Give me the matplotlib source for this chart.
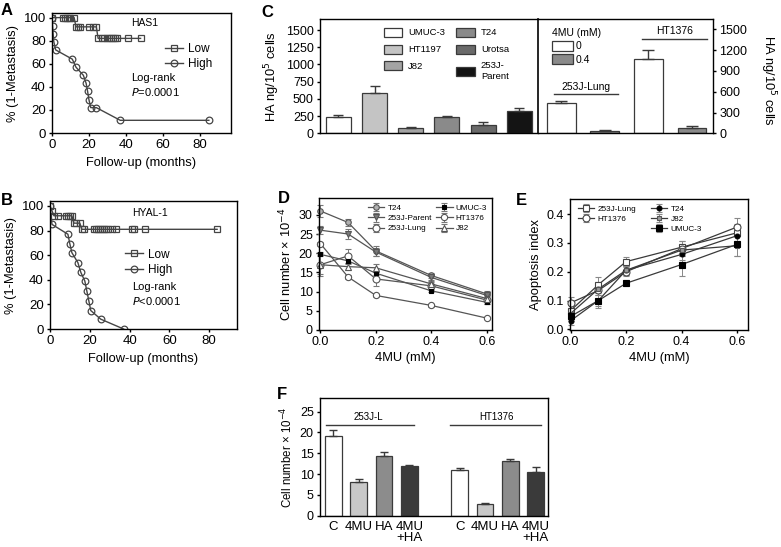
import matplotlib
matplotlib.use('Agg')
import matplotlib.pyplot as plt
import numpy as np

plt.rcParams['font.family'] = ['Liberation Sans', 'DejaVu Sans']
plt.rcParams['font.size'] = 9.3
plt.rcParams['xtick.labelsize'] = 9
plt.rcParams['ytick.labelsize'] = 9
plt.rcParams['axes.linewidth'] = 1.0
plt.rcParams['xtick.major.size'] = 2.5
plt.rcParams['ytick.major.size'] = 2.5
plt.rcParams['xtick.major.width'] = 1.0
plt.rcParams['ytick.major.width'] = 1.0
plt.rcParams['xtick.major.pad'] = 2
plt.rcParams['ytick.major.pad'] = 2

W, H = 781, 547
fig = plt.figure(figsize=(W / 100, H / 100), dpi=100)


def ax_px(l, t, r, b):
    return fig.add_axes([l / W, 1 - b / H, (r - l) / W, (b - t) / H])


# ---- data -------------------------------------------------------------
# A: HAS1 Kaplan-Meier
has1_low_t = [0, 6, 7, 8, 9, 10, 12, 13, 14, 15, 20, 22, 24, 25, 27, 28, 30, 31, 32, 33, 34, 35, 41, 48]
has1_low_s = [100, 100, 100, 100, 100, 100, 100, 92, 92, 92, 92, 92, 92,
              82, 82, 82, 82, 82, 82, 82, 82, 82, 82, 82]
has1_high_t = [0, 0.3, 0.6, 1, 2, 11, 13, 17, 18.5, 19.3, 20, 21, 24, 37, 85]
has1_high_s = [100, 93, 86, 79, 72, 64, 57, 50, 43, 36, 29, 22, 22, 11, 11]

# B: HYAL-1 Kaplan-Meier
hyal1_low_t = [0, 1, 2, 4, 8, 9, 10, 11, 12, 13, 15, 16, 17, 22, 23, 24, 25, 26, 27, 28,
               29, 31, 33, 41, 42, 48, 84]
hyal1_low_s = [100, 96, 92, 92, 92, 92, 92, 92, 86, 86, 86, 81, 81, 81, 81, 81, 81, 81,
               81, 81, 81, 81, 81, 81, 81, 81, 81]
hyal1_high_t = [0, 1, 9, 10, 11, 14, 15.5, 17.5, 18.5, 19.5, 20.5, 25.5, 37]
hyal1_high_s = [100, 85, 77, 69, 62, 54, 46, 39, 31, 23, 15, 8, 0]

# C left: HA secretion by cell line
c_lines = ['UMUC-3', 'HT1197', 'J82', 'T24', 'Urotsa', '253J-\nParent']
c_ha = [232, 589, 75, 237, 122, 324]
c_err = [35, 100, 12, 15, 40, 50]
c_colors = ['white', '#c4c4c4', '#a4a4a4', '#8a8a8a', '#6a6a6a', '#141414']

# C right: HA with 4MU
c2_groups = ['253J-Lung', 'HT1376']
c2_doses = ['0', '0.4']
c2_ha_0 = [440, 1068]
c2_err_0 = [20, 140]
c2_ha_04 = [38, 72]
c2_err_04 = [6, 35]

# D: cell number vs 4MU
d_x = [0, 0.1, 0.2, 0.4, 0.6]
d_t24 = [31, 28, 20.6, 14.2, 9.4]
d_t24_err = [1.5, 0.8, 1.2, 0.6, 0.8]
d_parent = [26, 25, 20.3, 13.7, 9.0]
d_parent_err = [1.0, 1.2, 1.0, 0.6, 0.8]
d_lung = [17, 19.3, 13.3, 11.5, 7.8]
d_lung_err = [2.5, 1.8, 1.8, 1.0, 1.0]
d_umuc = [19.7, 18, 14.8, 10.2, 7.2]
d_umuc_err = [0.5, 0.5, 0.5, 0.4, 0.5]
d_ht1376 = [22.5, 13.8, 9.0, 6.4, 3.1]
d_ht1376_err = [0.5, 0.4, 0.3, 0.3, 0.3]
d_j82 = [17, 16.5, 16.2, 12, 8.2]
d_j82_err = [3.0, 0.8, 1.0, 0.8, 0.8]

# E: apoptosis index vs 4MU
e_x = [0, 0.1, 0.2, 0.4, 0.6]
e_lung = [0.065, 0.155, 0.235, 0.285, 0.335]
e_lung_err = [0.02, 0.025, 0.015, 0.02, 0.03]
e_ht1376 = [0.092, 0.135, 0.2, 0.28, 0.355]
e_ht1376_err = [0.02, 0.03, 0.015, 0.025, 0.03]
e_t24 = [0.03, 0.1, 0.205, 0.26, 0.325]
e_t24_err = [0.015, 0.02, 0.015, 0.02, 0.03]
e_j82 = [0.055, 0.14, 0.205, 0.275, 0.29]
e_j82_err = [0.02, 0.02, 0.015, 0.02, 0.035]
e_umuc = [0.045, 0.1, 0.16, 0.225, 0.295]
e_umuc_err = [0.015, 0.025, 0.01, 0.04, 0.04]

# F: rescue with HA
f_groups = ['253J-L', 'HT1376']
f_treat = ['C', '4MU', 'HA', '4MU\n+HA']
f_253 = [19.2, 8.2, 14.3, 11.9]
f_253_err = [1.3, 0.7, 1.1, 0.3]
f_ht = [11.0, 2.9, 13.1, 10.6]
f_ht_err = [0.5, 0.1, 0.4, 1.0]
f_colors = ['white', '#c8c8c8', '#8c8c8c', '#3a3a3a']

LC = '#454545'
EC = '#3a3a3a'


def km_panel(ax, lt, ls, ht, hs, title, ptxt, leg_anchor, title_y, lr_y):
    ax.plot(lt, ls, '-', color=LC, lw=1.0, marker='s', ms=4.8, mfc='none', mec=LC, mew=0.9, label='Low')
    ax.plot(ht, hs, '-', color=LC, lw=1.0, marker='o', ms=4.8, mfc='none', mec=LC, mew=0.9, label='High')
    ax.set_xticks([0, 20, 40, 60, 80])
    ax.set_yticks([0, 20, 40, 60, 80, 100])
    ax.set_ylim(0, 104)
    ax.tick_params(direction='out', labelsize=9.5)
    ax.set_ylabel('% (1-Metastasis)', labelpad=3)
    ax.set_xlabel('Follow-up (months)', labelpad=4)
    ax.legend(loc='upper left', bbox_to_anchor=leg_anchor, frameon=False, fontsize=8.5,
              handlelength=1.5, handletextpad=0.4, borderpad=0, labelspacing=0.3)
    ax.text(0.44, title_y, title, transform=ax.transAxes, fontsize=7.5, ha='left', va='center')
    ax.text(0.44, lr_y, 'Log-rank', transform=ax.transAxes, fontsize=8, ha='left', va='center')
    ax.text(0.44, lr_y - 0.115, ptxt, transform=ax.transAxes, fontsize=8, ha='left', va='center')


# ---- A ----------------------------------------------------------------
axA = ax_px(52, 13, 231, 133)
km_panel(axA, has1_low_t, has1_low_s, has1_high_t, has1_high_s, 'HAS1',
         '$\\mathit{P}$=0.0001', (0.6, 0.80), 0.915, 0.46)
axA.set_xlim(0, 97)

# ---- B ----------------------------------------------------------------
axB = ax_px(50, 201, 237, 329)
km_panel(axB, hyal1_low_t, hyal1_low_s, hyal1_high_t, hyal1_high_s, 'HYAL-1',
         '$\\mathit{P}$<0.0001', (0.37, 0.675), 0.91, 0.33)
axB.set_xlim(0, 94)

# ---- C left -----------------------------------------------------------
axC1 = ax_px(320, 19, 538, 133.3)
xc = np.arange(len(c_lines))
for i in range(len(c_lines)):
    axC1.bar(xc[i], c_ha[i], width=0.69, color=c_colors[i], edgecolor=EC, lw=0.9,
             label=c_lines[i])
axC1.errorbar(xc, c_ha, yerr=[np.zeros(len(c_err)), c_err], fmt='none', ecolor=EC,
              elinewidth=1.0, capsize=3.5, capthick=1.0)
axC1.set_xlim(-0.51, 5.52)
axC1.set_ylim(0, 1660)
axC1.set_yticks([0, 250, 500, 750, 1000, 1250, 1500])
axC1.set_xticks([])
axC1.spines['right'].set_visible(False)
axC1.tick_params(direction='out')
axC1.set_ylabel('HA ng/10$^5$ cells', labelpad=3)
axC1.legend(loc='upper left', bbox_to_anchor=(0.27, 0.965), ncol=2, frameon=False,
            fontsize=6.8, handlelength=2.0, handleheight=1.1, handletextpad=0.6,
            columnspacing=1.2, labelspacing=0.75, borderpad=0)

# ---- C right ----------------------------------------------------------
axC2 = ax_px(538, 19, 713.3, 133.3)
xg = np.arange(len(c2_groups)) * 2
axC2.bar(xg, c2_ha_0, width=0.66, color='white', edgecolor=EC, lw=0.9, label=c2_doses[0])
axC2.bar(xg + 1, c2_ha_04, width=0.66, color='#8a8a8a', edgecolor=EC, lw=0.9, label=c2_doses[1])
axC2.errorbar(xg, c2_ha_0, yerr=[np.zeros(2), c2_err_0], fmt='none', ecolor=EC,
              elinewidth=1.0, capsize=4, capthick=1.0)
axC2.errorbar(xg + 1, c2_ha_04, yerr=[np.zeros(2), c2_err_04], fmt='none', ecolor=EC,
              elinewidth=1.0, capsize=4, capthick=1.0)
axC2.set_xlim(-0.53, 3.49)
axC2.set_ylim(0, 1650)
axC2.set_xticks([])
axC2.yaxis.tick_right()
axC2.set_yticks([0, 300, 600, 900, 1200, 1500])
axC2.tick_params(direction='out')
axC2.spines['left'].set_linewidth(1.2)
fig.text(768 / W, 1 - 80 / H, 'HA ng/10$^5$ cells', rotation=270, ha='center', va='center')
leg = axC2.legend(loc='upper left', bbox_to_anchor=(0.05, 0.97), frameon=False, fontsize=7.5,
                  title='4MU (mM)', title_fontsize=7.5, handlelength=2.0, handleheight=1.1,
                  handletextpad=0.3, labelspacing=0.3, borderpad=0)
leg._legend_box.align = 'left'
# group labels
axC2.plot([-0.17, 1.31], [563, 563], color=EC, lw=1.0)
axC2.text(0.57, 600, c2_groups[0], ha='center', va='bottom', fontsize=7.5)
axC2.plot([1.85, 3.34], [1365, 1365], color=EC, lw=1.0)
axC2.text(2.6, 1400, c2_groups[1], ha='center', va='bottom', fontsize=7.5)

# ---- D ----------------------------------------------------------------
axD = ax_px(319, 198.3, 491.7, 330)
d_series = [
    ('T24', d_t24, d_t24_err, dict(marker='o', ms=4, mfc='#b0b0b0', mec='#555555')),
    ('253J-Parent', d_parent, d_parent_err, dict(marker='v', ms=4, mfc='#7a7a7a', mec='#555555')),
    ('253J-Lung', d_lung, d_lung_err, dict(marker='o', ms=5, mfc='white', mec='#555555')),
    ('UMUC-3', d_umuc, d_umuc_err, dict(marker='s', ms=3.5, mfc='black', mec='black')),
    ('HT1376', d_ht1376, d_ht1376_err, dict(marker='o', ms=4.5, mfc='white', mec='#555555')),
    ('J82', d_j82, d_j82_err, dict(marker='^', ms=4, mfc='white', mec='#555555')),
]
for name, y, e, st in d_series:
    axD.errorbar(d_x, y, yerr=e, color='#555555', lw=0.9, elinewidth=0.7, capsize=2.5,
                 capthick=0.7, ecolor='#777777', mew=0.8, label=name, clip_on=False, **st)
axD.set_xlim(-0.005, 0.618)
axD.set_ylim(0, 34.3)
axD.set_xticks([0, 0.2, 0.4, 0.6])
axD.set_xticklabels(['0.0', '0.2', '0.4', '0.6'])
axD.set_yticks([0, 5, 10, 15, 20, 25, 30])
axD.tick_params(direction='out')
axD.set_xlabel('4MU (mM)', labelpad=3)
axD.set_ylabel('Cell number \u00d7 10$^{-4}$', labelpad=3)
axD.legend(loc='upper left', bbox_to_anchor=(0.26, 0.985), ncol=2, frameon=False, fontsize=5.9,
           handlelength=2.0, handletextpad=0.4, columnspacing=0.5, labelspacing=0.3,
           borderpad=0)

# ---- E ----------------------------------------------------------------
axE = ax_px(570, 199, 748.3, 330)
e_series = [
    ('253J-Lung', e_lung, e_lung_err, dict(marker='s', ms=4, mfc='white', mec='#444444')),
    ('HT1376', e_ht1376, e_ht1376_err, dict(marker='o', ms=5, mfc='white', mec='#444444')),
    ('T24', e_t24, e_t24_err, dict(marker='o', ms=3.5, mfc='black', mec='black')),
    ('J82', e_j82, e_j82_err, dict(marker='s', ms=3.5, mfc='#9a9a9a', mec='#555555')),
    ('UMUC-3', e_umuc, e_umuc_err, dict(marker='s', ms=4.5, mfc='black', mec='black')),
]
e_handles = []
for name, y, e, st in e_series:
    h = axE.errorbar(e_x, y, yerr=e, color='#3a3a3a', lw=0.9, elinewidth=0.7, capsize=2.5,
                     capthick=0.7, ecolor='#888888', mew=0.8, label=name, clip_on=False, **st)
    e_handles.append(h)
axE.set_xlim(-0.002, 0.64)
axE.set_ylim(-0.002, 0.452)
axE.set_xticks([0, 0.2, 0.4, 0.6])
axE.set_xticklabels(['0.0', '0.2', '0.4', '0.6'])
axE.set_yticks([0, 0.1, 0.2, 0.3, 0.4])
axE.set_yticklabels(['0.0', '0.1', '0.2', '0.3', '0.4'])
axE.tick_params(direction='out')
axE.set_xlabel('4MU (mM)', labelpad=3)
axE.set_ylabel('Apoptosis index', labelpad=3)
leg_e1 = axE.legend(handles=e_handles[:2], loc='upper left', bbox_to_anchor=(0.02, 0.985),
                    frameon=False, fontsize=5.9, handlelength=2.0, handletextpad=0.4,
                    labelspacing=0.3, borderpad=0)
axE.add_artist(leg_e1)
axE.legend(handles=e_handles[2:], loc='upper left', bbox_to_anchor=(0.43, 0.985),
           frameon=False, fontsize=5.9, handlelength=2.0, handletextpad=0.4,
           labelspacing=0.3, borderpad=0)

# ---- F ----------------------------------------------------------------
axF = ax_px(320, 398.3, 548.3, 515.7)
xf1 = np.arange(4)
xf2 = np.arange(4) + 5
axF.bar(xf1, f_253, width=0.66, color=f_colors, edgecolor=EC, lw=0.9)
axF.bar(xf2, f_ht, width=0.66, color=f_colors, edgecolor=EC, lw=0.9)
axF.errorbar(xf1, f_253, yerr=[np.zeros(4), f_253_err], fmt='none', ecolor=EC,
             elinewidth=1.0, capsize=3, capthick=1.0)
axF.errorbar(xf2, f_ht, yerr=[np.zeros(4), f_ht_err], fmt='none', ecolor=EC,
             elinewidth=1.0, capsize=3, capthick=1.0)
axF.set_xlim(-0.53, 8.5)
axF.set_ylim(0, 28.2)
axF.set_yticks([0, 5, 10, 15, 20, 25])
axF.set_xticks(list(xf1) + list(xf2))
axF.set_xticklabels(f_treat + f_treat, linespacing=0.85, fontsize=9.5)
axF.tick_params(axis='x', length=0, pad=4)
axF.tick_params(axis='y', direction='out')
axF.set_ylabel('Cell number \u00d7 10$^{-4}$', labelpad=3, fontsize=8.3)
axF.plot([-0.29, 3.19], [21.8, 21.8], color=EC, lw=1.0)
axF.text(1.4, 22.4, f_groups[0], ha='center', va='bottom', fontsize=7)
axF.plot([4.61, 8.21], [21.8, 21.8], color=EC, lw=1.0)
axF.text(6.45, 22.4, f_groups[1], ha='center', va='bottom', fontsize=7)

# ---- panel letters ----------------------------------------------------
for lab, px, py in [('A', 1, 15), ('B', 1, 205), ('C', 261, 17), ('D', 278, 203),
                    ('E', 516, 205), ('F', 277, 399)]:
    fig.text(px / W, 1 - py / H, lab, fontsize=12, fontweight='bold', ha='left', va='baseline')

fig.savefig('out.png', dpi=100)
